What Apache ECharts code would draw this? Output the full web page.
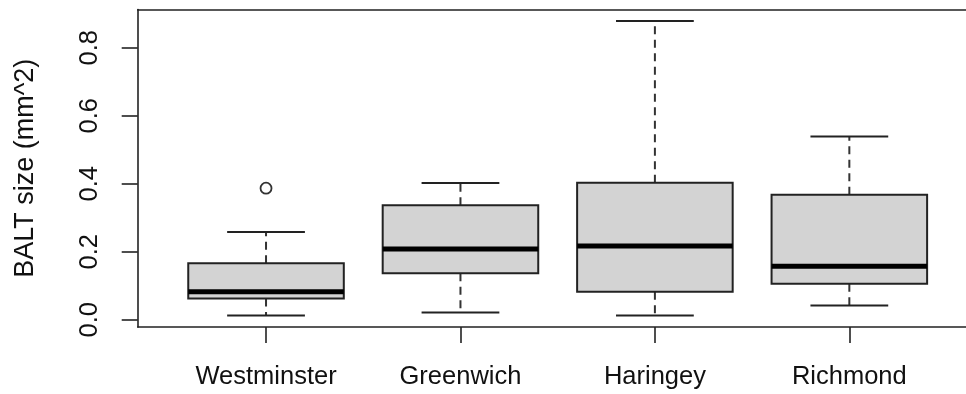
<!DOCTYPE html>
<html><head><meta charset="utf-8">
<script src="https://cdn.jsdelivr.net/npm/echarts@6/dist/echarts.min.js"></script>
<style>html,body{margin:0;padding:0;background:#fff}#c{width:966px;height:394px}</style>
</head><body><div id="c"></div>
<script>
// ---- data ----
const categories = ['Westminster', 'Greenwich', 'Haringey', 'Richmond'];
const whiskerLow  = [0.012, 0.021, 0.012, 0.042];
const q1          = [0.062, 0.137, 0.082, 0.106];
const medians     = [0.082, 0.208, 0.217, 0.157];
const q3          = [0.166, 0.337, 0.403, 0.368];
const whiskerHigh = [0.258, 0.402, 0.879, 0.539];
const outlierGroup = ['Westminster'];
const outlierValue = [0.387];
const yTicks = [0, 0.2, 0.4, 0.6, 0.8];
const yTitle = 'BALT size (mm^2)';

const FONT = "'Liberation Sans', Arial, sans-serif";
const positions = categories.map((c, i) => i + 1);
const boxData = categories.map((c, i) => [positions[i], whiskerLow[i], q1[i], medians[i], q3[i], whiskerHigh[i]]);
const outlierData = outlierGroup.map((g, i) => [categories.indexOf(g) + 1, outlierValue[i]]);

const LINE = {color: '#222', width: 1.6};
const chart = echarts.init(document.getElementById('c'), null, {renderer: 'canvas'});
chart.setOption({
  animation: false,
  backgroundColor: '#fff',
  grid: {left: 137.7, top: 9.5, right: 0, height: 317.5, containLabel: false},
  xAxis: [{
    type: 'value', min: 0.34, max: 4.6, position: 'bottom',
    axisLine: {show: true, onZero: false, lineStyle: LINE},
    splitLine: {show: false},
    axisTick: {show: true, length: 16, customValues: positions, lineStyle: LINE},
    axisLabel: {customValues: positions, margin: 37, fontSize: 25.5, color: '#111', fontFamily: FONT,
                formatter: v => categories[Math.round(v) - 1]}
  }, {
    type: 'value', min: 0.34, max: 4.6, position: 'top',
    axisLine: {show: true, onZero: false, lineStyle: LINE},
    splitLine: {show: false}, axisTick: {show: false}, axisLabel: {show: false}
  }],
  yAxis: {
    type: 'value', min: -0.0215, max: 0.9128,
    name: yTitle, nameLocation: 'middle', nameRotate: 90, nameGap: 99,
    nameTextStyle: {fontSize: 27, color: '#111', fontFamily: FONT},
    axisLine: {show: true, onZero: false, lineStyle: LINE},
    splitLine: {show: false},
    axisTick: {show: true, length: 16, customValues: yTicks, lineStyle: LINE},
    axisLabel: {customValues: yTicks, rotate: 90, margin: 35, fontSize: 25.5, color: '#111', fontFamily: FONT,
                formatter: v => v.toFixed(1)}
  },
  series: [
    {
      type: 'custom',
      clip: false,
      data: boxData,
      encode: {x: 0, y: [1, 2, 3, 4, 5]},
      renderItem: function (params, api) {
        const x = api.value(0);
        const lo = api.coord([x, api.value(1)]);
        const b = api.coord([x, api.value(2)]);
        const m = api.coord([x, api.value(3)]);
        const t = api.coord([x, api.value(4)]);
        const hi = api.coord([x, api.value(5)]);
        const halfBox = api.size([0.4, 0])[0];
        const halfCap = api.size([0.2, 0])[0];
        const cx = lo[0];
        const dash = {stroke: '#333', lineWidth: 2, lineDash: [8, 5.5], fill: null};
        const solid = {stroke: '#222', lineWidth: 2, fill: null};
        return {
          type: 'group',
          children: [
            {type: 'line', shape: {x1: cx, y1: t[1], x2: cx, y2: hi[1]}, style: dash},
            {type: 'line', shape: {x1: cx, y1: b[1], x2: cx, y2: lo[1]}, style: dash},
            {type: 'line', shape: {x1: cx - halfCap, y1: hi[1], x2: cx + halfCap, y2: hi[1]}, style: solid},
            {type: 'line', shape: {x1: cx - halfCap, y1: lo[1], x2: cx + halfCap, y2: lo[1]}, style: solid},
            {type: 'rect', shape: {x: cx - halfBox, y: t[1], width: 2 * halfBox, height: b[1] - t[1]},
             style: {fill: '#D3D3D3', stroke: '#222', lineWidth: 2}},
            {type: 'line', shape: {x1: cx - halfBox, y1: m[1], x2: cx + halfBox, y2: m[1]},
             style: {stroke: '#000', lineWidth: 5}}
          ]
        };
      }
    },
    {
      type: 'scatter',
      data: outlierData,
      symbol: 'circle',
      symbolSize: 11,
      itemStyle: {color: '#fff', borderColor: '#333', borderWidth: 1.8, opacity: 1}
    }
  ]
});
</script></body></html>
